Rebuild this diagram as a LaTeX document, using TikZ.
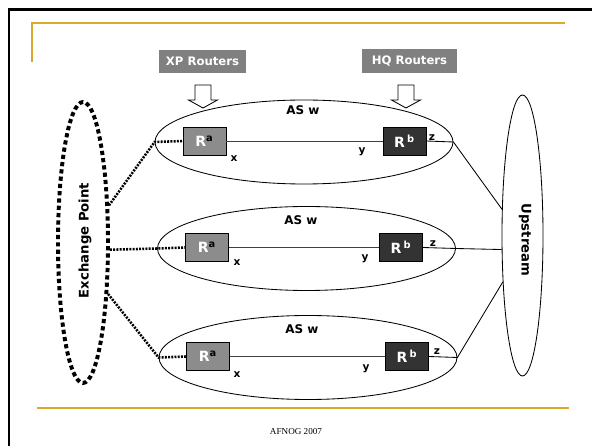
\documentclass[tikz,border=0pt]{standalone}
\usepackage{fontspec}
\setmainfont{DejaVu Sans}
\newfontfamily\footfont{Liberation Serif}
\usetikzlibrary{shapes.geometric}
\definecolor{slidegold}{RGB}{218,170,45}
\definecolor{taggray}{RGB}{128,128,128}
\definecolor{xpgray}{RGB}{140,140,140}
\definecolor{hqdark}{RGB}{51,51,51}

\begin{document}
\begin{tikzpicture}[scale=0.25]
    \tikzstyle{every node}+=[inner sep=0pt, font=\bfseries]
    \tikzstyle{tag}=[fill=taggray, text=white, font=\bfseries\fontsize{8.3}{10}\selectfont]
    \tikzstyle{asarea}=[draw, ellipse, line width=0.6pt, minimum width=7.45cm, minimum height=2.1cm]
    \tikzstyle{router}=[draw, line width=0.5pt, text=white, minimum width=1.075cm, minimum height=0.7cm, font=\bfseries\fontsize{10}{12}\selectfont]
    \tikzstyle{xprouter}=[router, fill=xpgray]
    \tikzstyle{hqrouter}=[router, fill=hqdark]
    \tikzstyle{port}=[font=\bfseries\fontsize{7.5}{8}\selectfont]
    \tikzstyle{aslabel}=[font=\bfseries\fontsize{8.5}{10}\selectfont]
    \tikzstyle{cloudlabel}=[font=\bfseries\fontsize{9.4}{11}\selectfont]
    \tikzstyle{xplink}=[line width=1.8pt, dash pattern=on 1.4pt off 0.9pt]
    \tikzstyle{wire}=[line width=0.6pt]
    \useasboundingbox (0,0) rectangle (59.2,-44.6);
    % slide frame
    \draw [black, line width=1.8pt] (0.9,-44.6) -- (0.9,-0.95) -- (59.2,-0.95);
    \draw [slidegold, line width=1.1pt] (3.2,-6.2) -- (3.2,-2.3) -- (56.5,-2.3);
    \draw [slidegold, line width=1.1pt] (3.7,-40.8) -- (56.9,-40.8);
    \node (foot) at (29.6,-43.2) {\footfont\mdseries\fontsize{6.5}{8}\selectfont AFNOG 2007};
    % tags and arrows
    \node [tag, minimum width=2.175cm, minimum height=0.575cm] (xptag) at (20.25,-6.15) {XP Routers};
    \node [tag, minimum width=2.375cm, minimum height=0.6cm] (hqtag) at (40.95,-6.1) {HQ Routers};
    \foreach \ax in {20.3,40.6}
        \draw [black, line width=0.6pt, fill=white, shift={(\ax,0)}] (-0.8,-8.5) -- (0.8,-8.5) -- (0.8,-10.0) -- (1.45,-10.0) -- (0,-10.8) -- (-1.45,-10.0) -- (-0.8,-10.0) -- cycle;
    % the three AS w areas
    \node [asarea] (as1) at (30.4,-14.2) {};
    \node [asarea] (as2) at (30.65,-24.85) {};
    \node [asarea] (as3) at (30.8,-35.75) {};
    \node [aslabel] (asw1) at (30.3,-11.0) {AS w};
    \node [aslabel] (asw2) at (30.1,-22.0) {AS w};
    \node [aslabel] (asw3) at (30.2,-32.9) {AS w};
    \node [xprouter] (ra1) at (20.45,-14.1) {R\textsuperscript{\textcolor{black}{a}}};
    \node [hqrouter] (rb1) at (40.45,-14.1) {R\,\textsuperscript{b}};
    \node [xprouter] (ra2) at (20.7,-24.75) {R\textsuperscript{\textcolor{black}{a}}};
    \node [hqrouter] (rb2) at (40.1,-24.75) {R\,\textsuperscript{b}};
    \node [xprouter] (ra3) at (20.8,-35.65) {R\textsuperscript{\textcolor{black}{a}}};
    \node [hqrouter] (rb3) at (40.7,-35.65) {R\,\textsuperscript{b}};
    \node [port] (x1) at (23.4,-15.9) {x};
    \node [port] (y1) at (36.2,-15.2) {y};
    \node [port] (z1) at (43.2,-13.8) {z};
    \node [port] (x2) at (23.7,-26.3) {x};
    \node [port] (y2) at (36.5,-25.9) {y};
    \node [port] (z2) at (43.3,-24.4) {z};
    \node [port] (x3) at (23.7,-37.5) {x};
    \node [port] (y3) at (36.6,-36.9) {y};
    \node [port] (z3) at (43.7,-35.2) {z};
    % exchange point and upstream
    \node [draw, ellipse, line width=2.8pt, dash pattern=on 3pt off 2.2pt, minimum width=1.25cm, minimum height=7.025cm] (ep) at (8.3,-24.25) {};
    \node [cloudlabel, rotate=90] (eplabel) at (8.5,-24.05) {Exchange Point};
    \node [draw, ellipse, wire, minimum width=1.025cm, minimum height=7.025cm] (up) at (52.25,-23.55) {};
    \node [cloudlabel, rotate=-90] (uplabel) at (52.5,-24.0) {Upstream};
    % links
    \draw [xplink] (ep.55) -- (as1.west) -- (ra1.west);
    \draw [xplink] (ep.-15) -- (as2.west) -- (ra2.west);
    \draw [xplink] (ep.-64) -- (as3.west) -- (ra3.west);
    \draw [wire, black!75] (ra1.east) -- (rb1.west);
    \draw [wire, black!75] (ra2.east) -- (rb2.west);
    \draw [wire, black!75] (ra3.east) -- (rb3.west);
    \draw [wire] (rb1.east) -- (as1.east) -- (up.128);
    \draw [wire] (rb2.east) -- (as2.east) -- (up.-146);
    \draw [wire] (rb3.east) -- (as3.east) -- (up.-113);
\end{tikzpicture}
\end{document}
